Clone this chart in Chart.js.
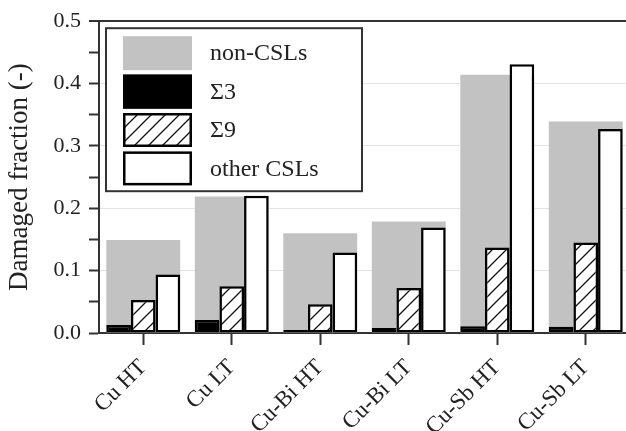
<!DOCTYPE html>
<html>
<head>
<meta charset="utf-8">
<script src="https://cdn.jsdelivr.net/npm/chart.js@4"></script>
<style>
  body { margin: 0; overflow: hidden; background: #fff; }
  #wrap { position: absolute; left: 0; top: 0; width: 632px; height: 431px; }
</style>
</head>
<body>
<div id="wrap"><canvas id="fractionChart"></canvas></div>
<script>
// Data
const samples = ["Cu HT", "Cu LT", "Cu-Bi HT", "Cu-Bi LT", "Cu-Sb HT", "Cu-Sb LT"];
const nonCSL = [0.149, 0.219, 0.160, 0.179, 0.414, 0.339];
const sigma3 = [0.013, 0.021, 0.005, 0.008, 0.011, 0.010];
const sigma9 = [0.053, 0.075, 0.046, 0.072, 0.137, 0.145];
const otherCSL = [0.094, 0.220, 0.129, 0.169, 0.431, 0.327];
const seriesNames = ["non-CSLs", "\u03A33", "\u03A39", "other CSLs"];

const SERIF = "'Liberation Serif', 'DejaVu Serif', serif";
const AXIS = "#333";

// hatch pattern for sigma 9
function makeHatch() {
  const s = 14;
  const c = document.createElement("canvas");
  c.width = s;
  c.height = s;
  const g = c.getContext("2d");
  g.fillStyle = "#fff";
  g.fillRect(0, 0, s, s);
  g.strokeStyle = "#111";
  g.lineWidth = 1.3;
  g.beginPath();
  g.moveTo(-2, s + 2);
  g.lineTo(s + 2, -2);
  g.moveTo(-2, 2);
  g.lineTo(2, -2);
  g.moveTo(s - 2, s + 2);
  g.lineTo(s + 2, s - 2);
  g.stroke();
  return g.createPattern(c, "repeat");
}
const hatch = makeHatch();

// legend drawn inside the plot, framed
const boxedLegend = {
  id: "boxedLegend",
  afterDraw(chart) {
    const { ctx, chartArea } = chart;
    const bx = chartArea.left + 7;
    const by = chartArea.top + 7;
    const bw = 256;
    const bh = 163;
    ctx.save();
    ctx.fillStyle = "#fff";
    ctx.fillRect(bx, by, bw, bh);
    ctx.strokeStyle = AXIS;
    ctx.lineWidth = 2;
    ctx.strokeRect(bx, by, bw, bh);
    ctx.font = "24px " + SERIF;
    ctx.textBaseline = "middle";
    ctx.textAlign = "left";
    chart.data.datasets.forEach((ds, i) => {
      const sx = bx + 17;
      const sy = by + 8 + i * 38.4;
      const sw = 69;
      const sh = 34;
      ctx.fillStyle = ds.backgroundColor;
      ctx.fillRect(sx, sy, sw, sh);
      if (ds.borderWidth) {
        ctx.strokeStyle = "#000";
        ctx.lineWidth = 2.5;
        ctx.strokeRect(sx + 1.25, sy + 1.25, sw - 2.5, sh - 2.5);
      }
      ctx.fillStyle = "#222";
      ctx.fillText(ds.label, bx + 104, sy + sh / 2 + 1);
    });
    ctx.restore();
  },
};

const ctx = document.getElementById("fractionChart").getContext("2d");
new Chart(ctx, {
  type: "bar",
  data: {
    labels: samples,
    datasets: [
      {
        label: seriesNames[0],
        data: nonCSL,
        backgroundColor: "#c2c2c2",
        borderWidth: 0,
        grouped: false,
        order: 1,
        categoryPercentage: 0.835,
        barPercentage: 1,
      },
      {
        label: seriesNames[1],
        data: sigma3,
        backgroundColor: "#000",
        borderColor: "#000",
        borderWidth: 2.5,
        borderSkipped: false,
        order: 0,
        categoryPercentage: 0.835,
        barPercentage: 1,
      },
      {
        label: seriesNames[2],
        data: sigma9,
        backgroundColor: hatch,
        borderColor: "#000",
        borderWidth: 2.5,
        borderSkipped: false,
        order: 0,
        categoryPercentage: 0.835,
        barPercentage: 1,
      },
      {
        label: seriesNames[3],
        data: otherCSL,
        backgroundColor: "#fff",
        borderColor: "#000",
        borderWidth: 2.5,
        borderSkipped: false,
        order: 0,
        categoryPercentage: 0.835,
        barPercentage: 1,
      },
    ],
  },
  options: {
    responsive: true,
    maintainAspectRatio: false,
    animation: false,
    layout: { padding: { top: 20, right: 2, left: 0, bottom: 0 } },
    plugins: {
      legend: { display: false },
      tooltip: { enabled: false },
    },
    scales: {
      x: {
        grid: {
          offset: false,
          drawOnChartArea: false,
          drawTicks: true,
          tickLength: 12,
          tickColor: AXIS,
          tickWidth: 2,
        },
        border: { color: AXIS, width: 2 },
        ticks: {
          autoSkip: false,
          minRotation: 45,
          maxRotation: 45,
          color: "#222",
          padding: 9,
          font: { family: SERIF, size: 23 },
        },
        afterFit(scale) {
          scale.height = 98;
        },
      },
      y: {
        min: 0,
        max: 0.5,
        ticks: {
          stepSize: 0.05,
          color: "#222",
          padding: 8,
          font: { family: SERIF, size: 22 },
          callback: function (value) {
            return Math.round(value * 100) % 10 === 0 ? value.toFixed(1) : "";
          },
        },
        grid: {
          color: function (c) {
            const v = Math.round(c.tick.value * 100);
            if (v === 0 || v % 10 !== 0) return "rgba(0,0,0,0)";
            if (v === 50) return AXIS;
            return "#e4e4e4";
          },
          lineWidth: function (c) {
            return Math.round(c.tick.value * 100) === 50 ? 2 : 1;
          },
          tickColor: AXIS,
          tickLength: 10,
          tickWidth: 2,
        },
        border: { color: AXIS, width: 2 },
        title: {
          display: true,
          text: "Damaged fraction (-)",
          color: "#222",
          font: { family: SERIF, size: 27 },
          padding: { top: 4, bottom: 0 },
        },
        afterFit(scale) {
          scale.width = 99;
        },
      },
    },
  },
  plugins: [boxedLegend],
});
</script>
</body>
</html>
